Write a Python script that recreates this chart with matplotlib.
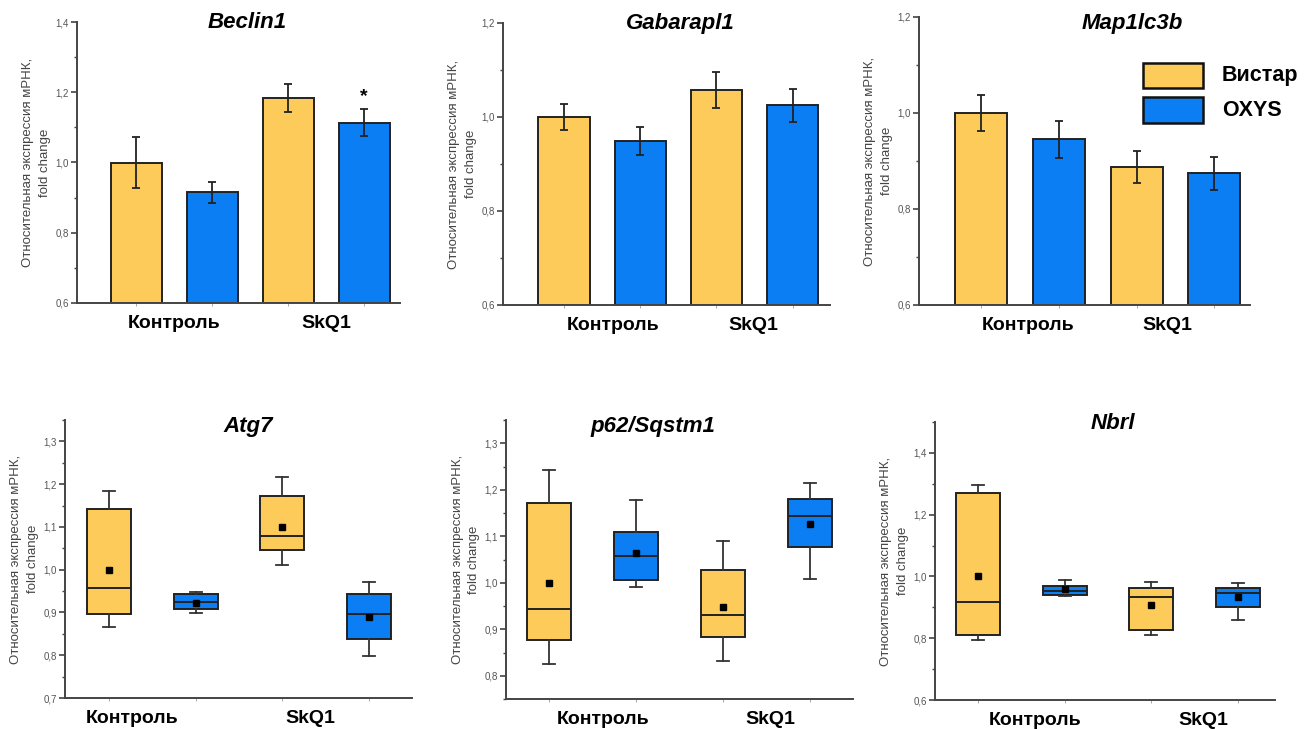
import numpy as np
import matplotlib
matplotlib.use("Agg")
import matplotlib.pyplot as plt
from matplotlib.ticker import MultipleLocator, FuncFormatter
from matplotlib.transforms import offset_copy

plt.rcParams['font.family'] = ['Liberation Sans', 'DejaVu Sans']

groups = ["Контроль", "SkQ1"]
strains = ["Вистар", "OXYS"]
ylabel = "Относительная экспрессия мРНК,\nfold change"

# bar panels: order = Вистар/Контроль, OXYS/Контроль, Вистар/SkQ1, OXYS/SkQ1
beclin1_mean = [1.000, 0.915, 1.184, 1.113]
beclin1_err = [0.074, 0.029, 0.040, 0.038]
gabarapl1_mean = [1.000, 0.949, 1.057, 1.025]
gabarapl1_err = [0.027, 0.030, 0.038, 0.035]
map1lc3b_mean = [1.000, 0.945, 0.888, 0.874]
map1lc3b_err = [0.038, 0.039, 0.033, 0.035]
beclin1_signif = ["", "", "", "*"]

# box panels: whisker low, q1, median, q3, whisker high, mean
atg7_lo = [0.866, 0.899, 1.010, 0.798]
atg7_q1 = [0.897, 0.909, 1.046, 0.837]
atg7_med = [0.958, 0.924, 1.078, 0.897]
atg7_q3 = [1.141, 0.943, 1.172, 0.943]
atg7_hi = [1.184, 0.948, 1.216, 0.971]
atg7_mean = [1.000, 0.923, 1.100, 0.890]

p62_lo = [0.825, 0.990, 0.832, 1.008]
p62_q1 = [0.877, 1.005, 0.883, 1.077]
p62_med = [0.943, 1.058, 0.930, 1.143]
p62_q3 = [1.171, 1.110, 1.027, 1.180]
p62_hi = [1.243, 1.177, 1.090, 1.214]
p62_mean = [1.000, 1.065, 0.948, 1.127]

nbrl_lo = [0.794, 0.937, 0.810, 0.859]
nbrl_q1 = [0.810, 0.940, 0.828, 0.902]
nbrl_med = [0.918, 0.954, 0.932, 0.946]
nbrl_q3 = [1.270, 0.968, 0.964, 0.961]
nbrl_hi = [1.295, 0.987, 0.983, 0.980]
nbrl_mean = [1.000, 0.959, 0.908, 0.932]

YELLOW = "#FDCB5A"
BLUE = "#0A7EF2"
colors = [YELLOW, BLUE, YELLOW, BLUE]
EDGE = "#222222"
SPINE = "#444444"

W, H = 1316, 729
fig = plt.figure(figsize=(W / 100, H / 100), dpi=100)


def add_ax(left, right, top, bottom):
    return fig.add_axes([left / W, 1 - bottom / H, (right - left) / W, (bottom - top) / H])


comma = FuncFormatter(lambda v, p: f"{v:.1f}".replace(".", ","))


def style(ax, title, ymin, ymax, major, minor, xlim, cat_x, title_pos):
    ax.set_ylim(ymin, ymax)
    ax.set_xlim(*xlim)
    ax.yaxis.set_major_locator(MultipleLocator(major))
    ax.yaxis.set_minor_locator(MultipleLocator(minor))
    ax.yaxis.set_major_formatter(comma)
    for s in ["top", "right"]:
        ax.spines[s].set_visible(False)
    for s in ["left", "bottom"]:
        ax.spines[s].set_color(SPINE)
        ax.spines[s].set_linewidth(1.4)
    ax.tick_params(axis="y", which="major", length=4, width=1.2, color=SPINE,
                   labelsize=7, labelcolor="#555555", pad=2)
    ax.tick_params(axis="y", which="minor", length=2.5, width=1.0, color=SPINE)
    ax.set_xticks([1, 2, 3, 4])
    ax.set_xticklabels([])
    ax.tick_params(axis="x", length=2, width=0.6, color="#999999")
    ax.set_ylabel(ylabel, fontsize=9.5, color="#444444", labelpad=3, linespacing=1.5)
    ax.text(title_pos[0], title_pos[1], title, transform=ax.transAxes, ha="center",
            va="center", fontsize=16, fontweight="bold", fontstyle="italic")
    tr = offset_copy(ax.get_xaxis_transform(), fig=fig, y=-15, units="points")
    for cx, g in zip(cat_x, groups):
        ax.text(cx, 0, g, transform=tr, ha="center", va="center",
                fontsize=14, fontweight="bold")


def bar_panel(ax, mean, err):
    x = np.arange(1, 5)
    ax.bar(x, [m - 0.6 for m in mean], bottom=0.6, width=0.67, color=colors,
           edgecolor=EDGE, linewidth=1.4, zorder=2)
    ax.errorbar(x, mean, yerr=err, fmt="none", ecolor="#222222", elinewidth=1.3,
                capsize=3, capthick=1.3, zorder=3)


def box_panel(ax, lo, q1, med, q3, hi, mean):
    stats = []
    for i in range(4):
        stats.append(dict(whislo=lo[i], q1=q1[i], med=med[i], q3=q3[i], whishi=hi[i],
                          mean=mean[i], fliers=[]))
    bp = ax.bxp(stats, positions=[1, 2, 3, 4], widths=0.51, patch_artist=True,
                showmeans=True, showfliers=False,
                boxprops=dict(edgecolor=EDGE, linewidth=1.4),
                medianprops=dict(color=EDGE, linewidth=1.4),
                whiskerprops=dict(color="#333333", linewidth=1.3),
                capprops=dict(color="#333333", linewidth=1.3),
                meanprops=dict(marker="s", markerfacecolor="black", markeredgecolor="black",
                               markersize=4.5))
    for patch, c in zip(bp["boxes"], colors):
        patch.set_facecolor(c)
    for cap in bp["caps"]:
        xd = cap.get_xdata()
        mid = (xd[0] + xd[1]) / 2
        cap.set_xdata([mid - 0.07, mid + 0.07])


# top row
ax1 = add_ax(77, 400, 22, 303)
bar_panel(ax1, beclin1_mean, beclin1_err)
for i, s in enumerate(beclin1_signif):
    if s:
        ax1.text(i + 1, beclin1_mean[i] + beclin1_err[i] + 0.012, s, ha="center", va="bottom",
                 fontsize=14, fontweight="bold")
style(ax1, "Beclin1", 0.6, 1.4, 0.2, 0.1, (0.22, 4.47), [1.5, 3.5], (0.526, 1.0))

ax2 = add_ax(503, 830, 23, 305)
bar_panel(ax2, gabarapl1_mean, gabarapl1_err)
style(ax2, "Gabarapl1", 0.6, 1.2, 0.2, 0.1, (0.2, 4.49), [1.65, 3.49], (0.541, 1.0))

ax3 = add_ax(919, 1250, 17, 305)
bar_panel(ax3, map1lc3b_mean, map1lc3b_err)
style(ax3, "Map1lc3b", 0.6, 1.2, 0.2, 0.1, (0.2, 4.46), [1.6, 3.39], (0.643, 0.979))

# legend
leg_ax = fig.add_axes([0, 0, 1, 1], facecolor="none")
leg_ax.set_axis_off()
leg_ax.set_xlim(0, W)
leg_ax.set_ylim(H, 0)
for (y0, y1), c, lab in zip([(63, 88), (97, 123)], [YELLOW, BLUE], strains):
    leg_ax.add_patch(plt.Rectangle((1143, y0), 60, y1 - y0, facecolor=c, edgecolor="#111111",
                                   linewidth=1.8))
    leg_ax.text(1222, (y0 + y1) / 2, lab, ha="left", va="center", fontsize=15.5, fontweight="bold")

# bottom row
ax4 = add_ax(65, 412, 420, 698)
box_panel(ax4, atg7_lo, atg7_q1, atg7_med, atg7_q3, atg7_hi, atg7_mean)
style(ax4, "Atg7", 0.7, 1.35, 0.1, 0.05, (0.49, 4.5), [1.26, 3.33], (0.527, 0.975))

ax5 = add_ax(506, 853, 420, 699)
box_panel(ax5, p62_lo, p62_q1, p62_med, p62_q3, p62_hi, p62_mean)
style(ax5, "p62/Sqstm1", 0.75, 1.35, 0.1, 0.05, (0.5, 4.5), [1.62, 3.55], (0.424, 0.975))

ax6 = add_ax(935, 1275, 422, 700)
box_panel(ax6, nbrl_lo, nbrl_q1, nbrl_med, nbrl_q3, nbrl_hi, nbrl_mean)
style(ax6, "Nbrl", 0.6, 1.5, 0.2, 0.1, (0.5, 4.43), [1.66, 3.6], (0.524, 0.993))

fig.savefig("out.png", dpi=100)
